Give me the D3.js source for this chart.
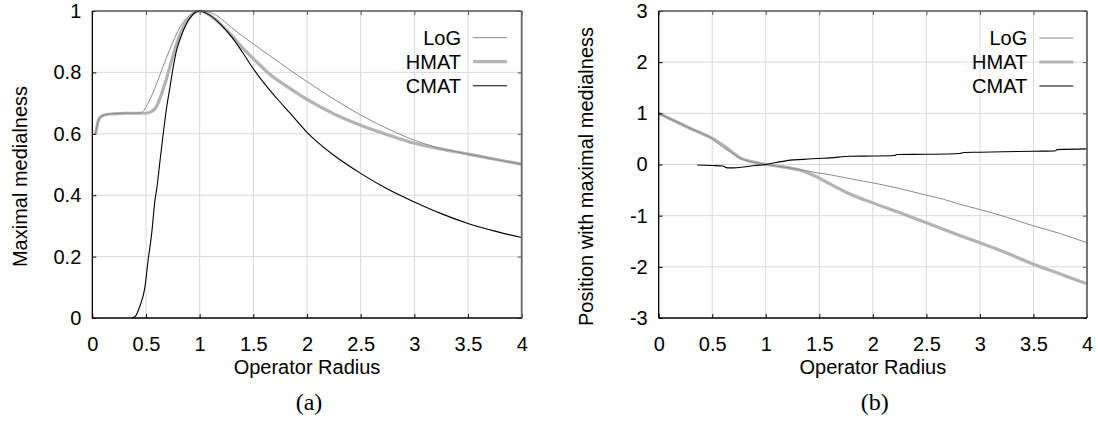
<!DOCTYPE html>
<html>
<head>
<meta charset="utf-8">
<script src="https://cdn.jsdelivr.net/npm/d3@7"></script>
<style>
  html, body { margin: 0; padding: 0; background: #fff; }
  svg { display: block; }
  text { font-family: "Liberation Sans", Arial, Helvetica, sans-serif; }
  text.caption { font-family: "Liberation Serif", "Times New Roman", serif; }
</style>
</head>
<body>
<svg id="fig" width="1098" height="423"></svg>
<script>
// ---- data -------------------------------------------------------------
const xTicks = [0, 0.5, 1, 1.5, 2, 2.5, 3, 3.5, 4];
const xTickLabels = ["0", "0.5", "1", "1.5", "2", "2.5", "3", "3.5", "4"];
const yTicksA = [0, 0.2, 0.4, 0.6, 0.8, 1];
const yTickLabelsA = ["0", "0.2", "0.4", "0.6", "0.8", "1"];
const yTicksB = [-3, -2, -1, 0, 1, 2, 3];
const yTickLabelsB = ["-3", "-2", "-1", "0", "1", "2", "3"];
const seriesNames = ["LoG", "HMAT", "CMAT"];

// (a) maximal medialness vs operator radius: [radius, value]
const logA = [[0.03,0.60],[0.06,0.645],[0.1,0.66],[0.2,0.666],[0.3,0.667],[0.4,0.667],[0.46,0.67],
  [0.52,0.70],[0.6,0.764],[0.66,0.82],[0.72,0.873],[0.82,0.949],[0.91,0.987],[1.0,1.0],[1.08,0.997],
  [1.16,0.985],[1.3,0.945],[1.47,0.900],[1.65,0.855],[1.84,0.808],[2.0,0.770],[2.25,0.713],[2.5,0.661],
  [2.75,0.617],[3.0,0.579],[3.25,0.552],[3.5,0.534],[3.75,0.517],[4.0,0.501]];
const hmatA = [[0.03,0.60],[0.05,0.635],[0.07,0.653],[0.12,0.662],[0.2,0.665],[0.3,0.667],[0.4,0.667],
  [0.5,0.667],[0.55,0.672],[0.6,0.69],[0.64,0.725],[0.68,0.767],[0.74,0.84],[0.82,0.927],[0.91,0.981],
  [1.0,1.0],[1.1,0.985],[1.2,0.955],[1.3,0.92],[1.4,0.88],[1.5,0.845],[1.65,0.795],[1.84,0.748],
  [2.0,0.712],[2.25,0.665],[2.5,0.628],[2.75,0.597],[3.0,0.569],[3.25,0.55],[3.5,0.534],[3.75,0.517],[4.0,0.501]];
const cmatA = [[0.37,0],[0.40,0.005],[0.44,0.036],[0.49,0.10],[0.52,0.188],[0.553,0.275],[0.584,0.384],
  [0.6,0.42],[0.63,0.51],[0.661,0.601],[0.69,0.68],[0.724,0.753],[0.75,0.81],[0.786,0.873],[0.83,0.92],
  [0.879,0.96],[0.94,0.99],[1.0,1.0],[1.1,0.985],[1.2,0.955],[1.3,0.915],[1.4,0.865],[1.5,0.812],
  [1.6,0.765],[1.72,0.715],[1.84,0.668],[2.0,0.605],[2.25,0.53],[2.5,0.471],[2.75,0.42],[3.0,0.378],
  [3.25,0.34],[3.5,0.308],[3.75,0.283],[4.0,0.262]];

// (b) position with maximal medialness vs operator radius
const logB = [[0,1.0],[0.1,0.9],[0.2,0.8],[0.3,0.7],[0.4,0.61],[0.51,0.49],[0.56,0.40],[0.63,0.30],
  [0.7,0.20],[0.76,0.12],[0.85,0.06],[0.93,0.03],[1.0,0.0],[1.1,-0.03],[1.23,-0.07],[1.35,-0.11],
  [1.475,-0.16],[1.6,-0.2],[1.79,-0.28],[2.0,-0.36],[2.25,-0.47],[2.5,-0.6],[2.66,-0.68],[2.8,-0.77],
  [3.0,-0.88],[3.25,-1.03],[3.5,-1.2],[3.75,-1.35],[4.0,-1.53]];
const hmatB = [[0,1.0],[0.1,0.90],[0.2,0.80],[0.3,0.70],[0.4,0.61],[0.51,0.50],[0.57,0.42],[0.635,0.325],
  [0.7,0.22],[0.76,0.13],[0.85,0.065],[0.93,0.03],[1.0,0.0],[1.1,-0.03],[1.23,-0.07],[1.35,-0.13],
  [1.475,-0.24],[1.6,-0.38],[1.79,-0.58],[2.0,-0.75],[2.25,-0.94],[2.5,-1.14],[2.75,-1.34],[3.0,-1.53],
  [3.25,-1.73],[3.5,-1.95],[3.75,-2.14],[4.0,-2.33]];
const cmatB = [[0.36,-0.01],[0.5,-0.02],[0.6,-0.03],[0.64,-0.065],[0.7,-0.065],[0.79,-0.05],[0.9,-0.02],
  [1.0,0.0],[1.1,0.04],[1.23,0.085],[1.35,0.10],[1.475,0.117],[1.6,0.13],[1.79,0.16],[2.0,0.165],
  [2.2,0.175],[2.23,0.195],[2.5,0.2],[2.81,0.215],[2.85,0.235],[3.0,0.24],[3.5,0.26],[3.7,0.265],
  [3.72,0.29],[4.0,0.305]];

// ---- styles -----------------------------------------------------------
const lineStyle = {
  LoG:  { stroke: "#8a8a8a", width: 1.0 },
  HMAT: { stroke: "#b3b3b3", width: 3.2 },
  CMAT: { stroke: "#000000", width: 1.1 }
};
const drawOrder = ["HMAT", "LoG", "CMAT"];
const FONT = 20;

const svg = d3.select("#fig");

function panel(cfg) {
  const x = d3.scaleLinear().domain([0, 4]).range([cfg.left, cfg.right]);
  const y = d3.scaleLinear().domain(cfg.yDomain).range([cfg.bottom, cfg.top]);
  const g = svg.append("g");

  // grid
  g.append("g").selectAll("line").data(xTicks.slice(1, -1)).join("line")
    .attr("x1", d => x(d)).attr("x2", d => x(d))
    .attr("y1", cfg.top).attr("y2", cfg.bottom)
    .attr("stroke", "#d9d9d9").attr("stroke-width", 1);
  g.append("g").selectAll("line").data(cfg.yTicks.slice(1, -1)).join("line")
    .attr("x1", cfg.left).attr("x2", cfg.right)
    .attr("y1", d => y(d)).attr("y2", d => y(d))
    .attr("stroke", "#d9d9d9").attr("stroke-width", 1);

  // curves
  const line = d3.line().x(d => x(d[0])).y(d => y(d[1])).curve(d3.curveMonotoneX);
  drawOrder.forEach(name => {
    g.append("path").datum(cfg.series[name])
      .attr("fill", "none")
      .attr("stroke", lineStyle[name].stroke)
      .attr("stroke-width", lineStyle[name].width)
      .attr("stroke-linejoin", "round")
      .attr("d", line);
  });

  // axes with inward ticks (mirrored on top / right)
  const styleAxis = (sel, color) => {
    sel.select(".domain").remove();
    sel.selectAll(".tick line").attr("stroke", color);
    sel.selectAll("text").attr("font-size", FONT).attr("fill", "#000");
  };
  const xb = g.append("g").attr("transform", `translate(0,${cfg.bottom})`)
    .call(d3.axisBottom(x).tickValues(xTicks).tickFormat((d, i) => xTickLabels[i])
      .tickSize(-4).tickPadding(19));
  styleAxis(xb, "#000");
  const xt = g.append("g").attr("transform", `translate(0,${cfg.top})`)
    .call(d3.axisTop(x).tickValues(xTicks).tickFormat("").tickSize(-4));
  styleAxis(xt, "#555");
  const yl = g.append("g").attr("transform", `translate(${cfg.left},0)`)
    .call(d3.axisLeft(y).tickValues(cfg.yTicks).tickFormat((d, i) => cfg.yTickLabels[i])
      .tickSize(-4).tickPadding(11));
  styleAxis(yl, "#000");
  const yr = g.append("g").attr("transform", `translate(${cfg.right},0)`)
    .call(d3.axisRight(y).tickValues(cfg.yTicks).tickFormat("").tickSize(-4));
  styleAxis(yr, "#555");

  // frame
  g.append("line").attr("x1", cfg.left).attr("x2", cfg.right).attr("y1", cfg.top).attr("y2", cfg.top)
    .attr("stroke", "#555").attr("stroke-width", 1.5);
  g.append("line").attr("x1", cfg.right).attr("x2", cfg.right).attr("y1", cfg.top).attr("y2", cfg.bottom)
    .attr("stroke", "#666").attr("stroke-width", 1.8);
  g.append("line").attr("x1", cfg.left).attr("x2", cfg.left).attr("y1", cfg.top).attr("y2", cfg.bottom)
    .attr("stroke", "#000").attr("stroke-width", 1.3);
  g.append("line").attr("x1", cfg.left).attr("x2", cfg.right).attr("y1", cfg.bottom).attr("y2", cfg.bottom)
    .attr("stroke", "#000").attr("stroke-width", 1.3);

  // axis titles
  g.append("text").attr("x", (cfg.left + cfg.right) / 2).attr("y", 374)
    .attr("text-anchor", "middle").attr("font-size", FONT).text("Operator Radius");
  g.append("text").attr("transform", `translate(${cfg.yTitleX},176.5) rotate(-90)`)
    .attr("text-anchor", "middle").attr("font-size", FONT).text(cfg.yTitle);

  // legend
  const leg = g.append("g");
  seriesNames.forEach((name, i) => {
    const cy = cfg.legendY + i * 24;
    leg.append("text").attr("x", cfg.legendTextX).attr("y", cy).attr("dy", "0.35em")
      .attr("text-anchor", "end").attr("font-size", FONT).text(name);
    leg.append("line").attr("x1", cfg.legendTextX + 12).attr("x2", cfg.legendTextX + 46)
      .attr("y1", cy).attr("y2", cy)
      .attr("stroke", lineStyle[name].stroke).attr("stroke-width", lineStyle[name].width);
  });

  // caption
  g.append("text").attr("class", "caption")
    .attr("x", (cfg.left + cfg.right) / 2 + 2).attr("y", 410)
    .attr("text-anchor", "middle").attr("font-size", 24).text(cfg.caption);
}

panel({
  left: 92.3, right: 521.7, top: 11, bottom: 318,
  yDomain: [0, 1], yTicks: yTicksA, yTickLabels: yTickLabelsA,
  series: { LoG: logA, HMAT: hmatA, CMAT: cmatA },
  yTitle: "Maximal medialness", yTitleX: 26.5,
  legendTextX: 461, legendY: 37.7, caption: "(a)"
});
panel({
  left: 658.7, right: 1087, top: 11, bottom: 318,
  yDomain: [-3, 3], yTicks: yTicksB, yTickLabels: yTickLabelsB,
  series: { LoG: logB, HMAT: hmatB, CMAT: cmatB },
  yTitle: "Position with maximal medialness", yTitleX: 593,
  legendTextX: 1027.3, legendY: 38, caption: "(b)"
});
</script>
</body>
</html>
